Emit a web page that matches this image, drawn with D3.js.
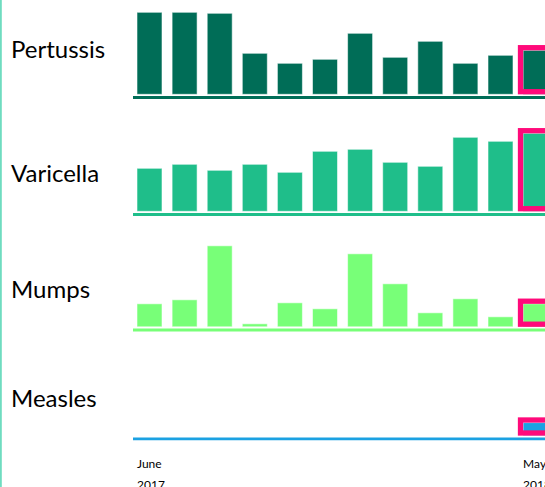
<!DOCTYPE html>
<html>
<head>
<meta charset="utf-8">
<script src="https://cdn.jsdelivr.net/npm/d3@7"></script>
<style>
  body { margin: 0; background: #fff; overflow: hidden; }
  .row-label { font-family: Lato, 'Noto Sans', sans-serif; font-size: 24px; fill: #000; }
  .tick-label { font-family: Lato, 'Noto Sans', sans-serif; font-size: 12px; fill: #000; }
</style>
</head>
<body>
<div class="vis-container"></div>
<script>
/* global d3 */

// months shown, June 2017 to May 2018
const MONTHS = ['Jun 2017', 'Jul 2017', 'Aug 2017', 'Sep 2017', 'Oct 2017', 'Nov 2017',
  'Dec 2017', 'Jan 2018', 'Feb 2018', 'Mar 2018', 'Apr 2018', 'May 2018'];
const DISEASES = ['Pertussis', 'Varicella', 'Mumps', 'Measles'];

// monthly case counts
const PERTUSSIS = [82, 82, 81, 41, 31, 35, 61, 37, 53, 31, 39, 44];
const VARICELLA = [43, 47, 41, 47, 39, 60, 62, 49, 45, 74, 70, 78];
const MUMPS = [23, 27, 81, 3, 24, 18, 73, 43, 14, 28, 10, 23];
const MEASLES = [0, 0, 0, 0, 0, 0, 0, 0, 0, 0, 0, 13];

const TICK_LABELS = [['June', '2017'], ['May', '2018']];
const TICK_MONTHS = ['Jun 2017', 'May 2018'];

// the current month gets the pink box
const HIGHLIGHT = 'May 2018';

const COLORS = ['#006d57', '#1fbe8a', '#78ff78', '#1ba1e2'];

document.addEventListener('DOMContentLoaded', () => {
  buildSparkBars();
});

function buildSparkBars() {
  const width = 545;
  const height = 487;
  const series = [PERTUSSIS, VARICELLA, MUMPS, MEASLES];
  // baseline of each row, rows are not evenly spaced
  const rowBase = [97.5, 214.5, 330, 438.8];
  const labelOffset = [-39.5, -32.8, -32.2, -32.3];
  const barHeight = 82;

  const svg = d3.select('.vis-container').append('svg')
    .attr('width', width)
    .attr('height', height)
    .style('display', 'block');

  // left border strip
  svg.append('rect')
    .attr('x', 0)
    .attr('y', 0)
    .attr('width', 1.8)
    .attr('height', height)
    .attr('fill', '#6fdcc0');

  const x = d3.scaleBand()
    .domain(MONTHS)
    .range([137, 548.1])
    .paddingInner(0.288)
    .paddingOuter(0);

  DISEASES.forEach((name, r) => {
    const bottom = rowBase[r] - 3.2;
    const y = d3.scaleLinear().domain([0, 82]).range([bottom, bottom - barHeight]);
    const data = MONTHS.map((m, i) => ({month: m, value: series[r][i]}));
    const g = svg.append('g').attr('class', 'row');

    g.append('text')
      .attr('class', 'row-label')
      .attr('x', 11)
      .attr('y', rowBase[r] + labelOffset[r])
      .text(name);

    g.selectAll('.bar').data(data.filter(d => d.value > 0))
      .enter().append('rect')
        .attr('class', 'bar')
        .attr('x', d => x(d.month))
        .attr('y', d => y(d.value))
        .attr('width', x.bandwidth())
        .attr('height', d => y(0) - y(d.value))
        .attr('fill', COLORS[r])
        .attr('stroke', 'rgba(255,255,255,0.55)')
        .attr('stroke-width', 1);

    const hl = data.find(d => d.month === HIGHLIGHT);
    g.append('rect')
      .attr('class', 'highlight')
      .attr('x', x(hl.month) - 2.6)
      .attr('y', y(hl.value) - 2.6)
      .attr('width', x.bandwidth() + 5.2)
      .attr('height', y(0) - y(hl.value))
      .attr('fill', 'none')
      .attr('stroke', '#ff0a7a')
      .attr('stroke-width', 5.3);

    g.append('line')
      .attr('x1', 133)
      .attr('x2', width + 10)
      .attr('y1', rowBase[r])
      .attr('y2', rowBase[r])
      .attr('stroke', COLORS[r])
      .attr('stroke-width', 2.8);
  });

  svg.selectAll('.tick-label').data(TICK_MONTHS)
    .enter().append('text')
      .attr('class', 'tick-label')
      .attr('x', d => x(d))
      .attr('y', 468.3)
      .each(function(d, i) {
        d3.select(this).selectAll('tspan').data(TICK_LABELS[i])
          .enter().append('tspan')
            .attr('x', x(d))
            .attr('dy', (t, j) => j ? 20.5 : 0)
            .text(t => t);
      });
}
</script>
</body>
</html>
